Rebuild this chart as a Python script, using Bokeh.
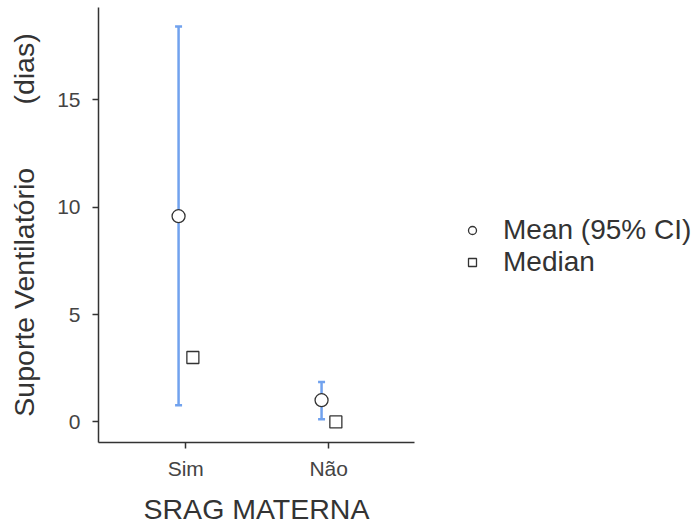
import numpy as np
from bokeh.plotting import figure
from bokeh.models import (ColumnDataSource, Range1d, FixedTicker, Whisker, TeeHead,
                          Legend, LegendItem)
from bokeh.embed import file_html
from bokeh.resources import INLINE

# data
categories = ["Sim", "Não"]
mean_vals = [9.58, 1.01]
ci_lower = [0.78, 0.12]
ci_upper = [18.42, 1.86]
median_vals = [3.0, 0.0]
y_ticks = [0, 5, 10, 15]

FONT = "Liberation Sans"
BLUE = "#71A2EE"
DARK = "#333333"

xpos = np.arange(1, len(categories) + 1, dtype=float)
src = ColumnDataSource(dict(
    xm=xpos - 0.05, xmed=xpos + 0.05,
    mean=mean_vals, lo=ci_lower, hi=ci_upper, med=median_vals))

p = figure(frame_width=316, frame_height=435, output_backend="svg",
           toolbar_location=None,
           x_range=Range1d(0.39, 2.60), y_range=Range1d(-0.96, 19.3),
           min_border_left=98, min_border_top=7, min_border_bottom=83,
           min_border_right=0)
p.outline_line_color = None
p.grid.visible = False
p.background_fill_color = "white"

w = Whisker(base="xm", lower="lo", upper="hi", source=src, dimension="height",
            line_color=BLUE, line_width=2.5,
            upper_head=TeeHead(size=7, line_color=BLUE, line_width=2.5),
            lower_head=TeeHead(size=7, line_color=BLUE, line_width=2.5))
p.add_layout(w)

r_mean = p.scatter("xm", "mean", source=src, marker="circle", size=13,
                   fill_color="white", line_color=DARK, line_width=1.3)
r_med = p.scatter("xmed", "med", source=src, marker="square", size=12,
                  fill_color="white", line_color=DARK, line_width=1.3)

# axes
p.xaxis.ticker = FixedTicker(ticks=list(xpos))
p.xaxis.major_label_overrides = {float(x): c for x, c in zip(xpos, categories)}
p.xaxis.major_label_overrides.update({int(x): c for x, c in zip(xpos, categories)})
p.yaxis.ticker = FixedTicker(ticks=y_ticks)
for ax in (p.xaxis[0], p.yaxis[0]):
    ax.axis_line_color = DARK
    ax.axis_line_width = 1.5
    ax.major_tick_line_color = DARK
    ax.major_tick_line_width = 1.5
    ax.major_tick_out = 6
    ax.major_tick_in = 0
    ax.minor_tick_line_color = None
    ax.major_label_text_font = FONT
    ax.major_label_text_font_size = "21px"
    ax.major_label_text_color = "#444444"
    ax.axis_label_text_font = FONT
    ax.axis_label_text_font_size = "28.5px"
    ax.axis_label_text_font_style = "normal"
    ax.axis_label_text_color = DARK
    ax.major_label_standoff = 12
p.xaxis.major_label_standoff = 8
p.xaxis.axis_label = "SRAG MATERNA"
p.xaxis.axis_label_standoff = 10
p.yaxis.axis_label = "Suporte Ventilatório" + "\u00a0" * 8 + "(dias)"
p.yaxis.axis_label_standoff = 14

legend = Legend(items=[LegendItem(label="Mean (95% CI)", renderers=[r_mean]),
                       LegendItem(label="Median", renderers=[r_med])],
                location=(48, 164), margin=0, padding=0,
                glyph_width=20, glyph_height=20, label_standoff=21,
                spacing=0, border_line_color=None, background_fill_alpha=0,
                label_text_font=FONT, label_text_font_size="28px",
                label_text_color=DARK)
p.add_layout(legend, "right")

open("out.html", "w").write(file_html(p, INLINE))
